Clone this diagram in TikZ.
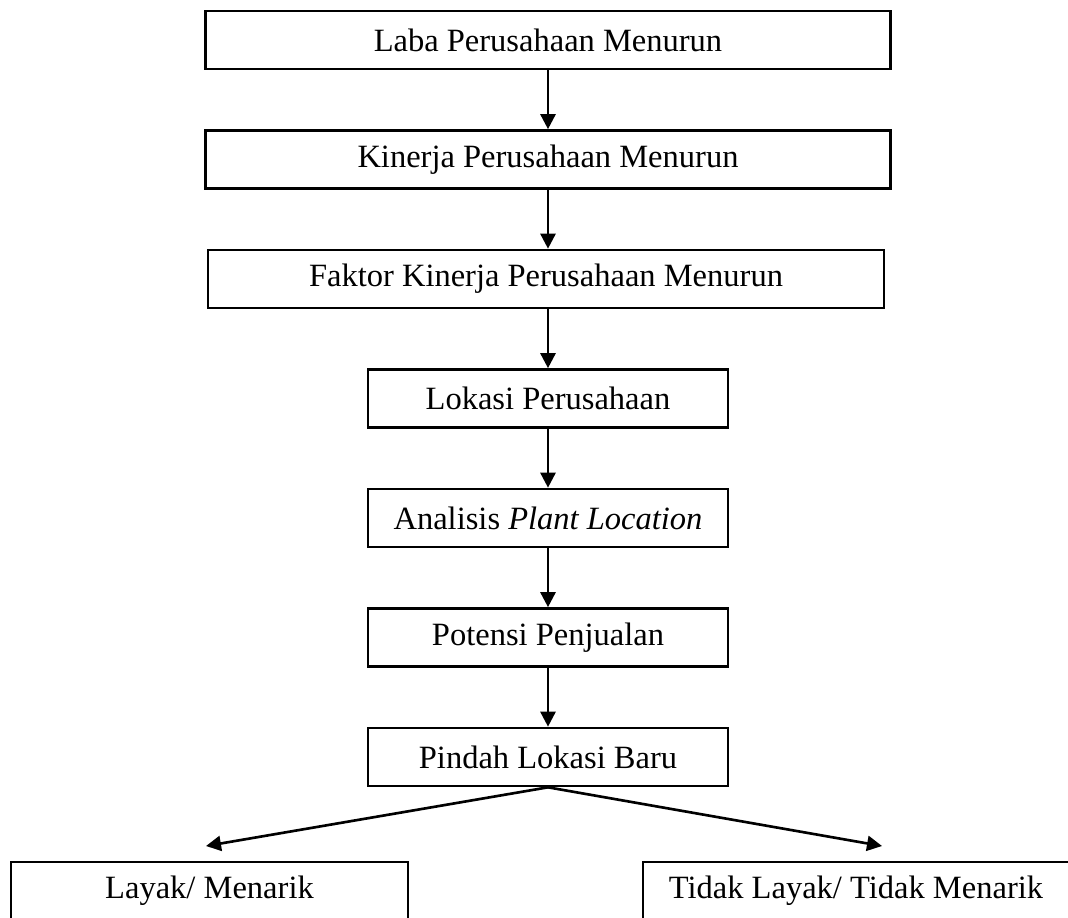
\documentclass[tikz,border=0pt]{standalone}
\usepackage{fontspec}
\setmainfont{Liberation Serif}
\usepackage{tikz}
\usetikzlibrary{arrows.meta}
\usetikzlibrary{positioning}

\begin{document}
\begin{tikzpicture}[
		->,
		>={Triangle[length=0.3cm,width=0.3cm]},
		node distance=2.39cm,
		line width=1.5pt,
		font=\fontsize{18.5}{22}\selectfont,
		box node/.style={draw, rectangle, minimum height=1.16cm, inner sep=0pt}
		,
		wide node/.style={box node, minimum width=13.7cm},
		small node/.style={box node, minimum width=7.2cm}
		]
		
		\useasboundingbox (0,0) rectangle (21.36,-18.36);
		\clip (0,0) rectangle (21.36,-18.36);
		
		\node[wide node] (laba) at (10.96,-0.8) {Laba Perusahaan Menurun};
		\node[wide node] (kinerja) [below of=laba] {Kinerja Perusahaan Menurun};
		\node[wide node, minimum width=13.52cm, xshift=-0.04cm] (faktor) [below of=kinerja] {Faktor Kinerja Perusahaan Menurun};
		\node[small node] (lokasi) [below of=kinerja, yshift=-2.39cm] {Lokasi Perusahaan};
		\node[small node] (analisis) [below of=lokasi] {Analisis \textit{Plant Location}};
		\node[small node] (potensi) [below of=analisis] {Potensi Penjualan};
		\node[small node] (pindah) [below of=potensi] {Pindah Lokasi Baru};
		\node[box node, minimum width=7.94cm] (layak) at (4.19,-17.82) {Layak/ Menarik};
		\node[box node, minimum width=8.52cm] (tidak) at (17.12,-17.82) {Tidak Layak/ Tidak Menarik};
		\coordinate (kiri) at (4.12,-16.92);
		\coordinate (kanan) at (17.64,-16.92);
		
		\path
		(laba) edge (kinerja)
		(kinerja) edge (lokasi.north |- faktor.north)
		(lokasi.north |- faktor.south) edge (lokasi)
		(lokasi) edge (analisis)
		(analisis) edge (potensi)
		(potensi) edge (pindah);
		\draw (pindah.south) -- (kiri);
		\draw (pindah.south) -- (kanan);
	\end{tikzpicture}
\end{document}
